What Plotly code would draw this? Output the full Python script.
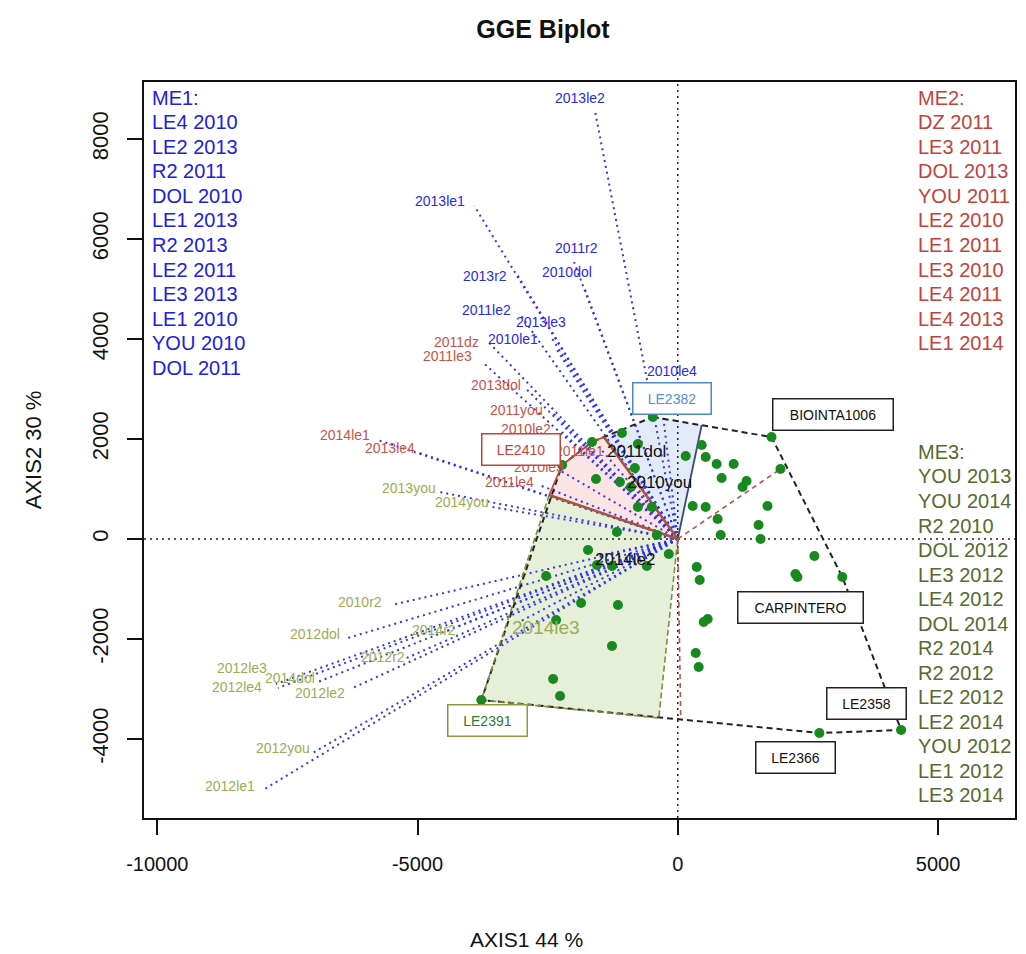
import plotly.graph_objects as go

# ---------------- genotype scores (AXIS1, AXIS2) ----------------
named_gen = ["LE2382", "BIOINTA1006", "CARPINTERO", "LE2358", "LE2366", "LE2391", "LE2410"]
named_x = [-479, 1801, 3161, 4291, 2720, -3774, -2222]
named_y = [2440, 2040, -760, -3820, -3880, -3220, 1480]

# unlabelled genotypes; the first one is a vertex of the polygon
other_x = [-1648, -1073, -766, -824, -1571, -1111, -900, -766, -498, -1169, -402, -172,
           -1724, -1552, -1264, -594, 460, 153, 536, 747, 1073, 843, 1322, 1245, 1973,
           287, 536, 1724, 766, 1552, 824, 1590, 2625, 364, 421, 2261, 2299, 498, 575,
           345, 402, -2529, -1858, -1149, -2337, -1264, -2395, -2261]
other_y = [1940, 2120, 1900, 1420, 1200, 1140, 1040, 640, 640, 140, 80, -300,
           -220, -520, -540, -540, 1880, 1660, 1640, 1500, 1500, 1220, 1160, 1040, 1400,
           660, 640, 660, 400, 280, 80, 0, -340, -560, -820, -700, -760, -1660, -1600,
           -2280, -2560, -740, -1280, -1320, -1620, -2140, -2800, -3140]

# ---------------- environment scores ----------------
env_names = ["2013le2", "2013le1", "2011r2", "2010dol", "2013r2", "2011le2", "2013le3",
             "2010le1", "2010le4", "2011dol", "2010you",
             "2011dz", "2011le3", "2013dol", "2011you", "2010le2", "2011le1", "2010le3",
             "2011le4", "2014le1", "2013le4",
             "2013you", "2014you", "2010r2", "2012dol", "2014r2", "2012r2", "2012le3",
             "2012le4", "2014dol", "2012le2", "2012you", "2012le1", "2014le2", "2014le3"]
env_x = [-1590, -3908, -1992, -1801, -3103, -3046, -2433, -2356, -364, -1226, -939,
         -3621, -3755, -2950, -2414, -2222, -1513, -2280, -2663, -5766, -5019,
         -4579, -3563, -5498, -6341, -4483, -5211, -7720, -7682, -6916, -6245, -7011,
         -7969, -1552, -3046]
env_y = [8560, 6660, 5540, 5040, 5320, 4520, 4040, 3840, 3180, 1820, 1220,
         3920, 3540, 3040, 2540, 2140, 1840, 1380, 1080, 1980, 1740,
         940, 640, -1320, -1980, -1860, -2380, -2900, -2980, -2860, -2980, -4280,
         -5020, -340, -1660]
env_group = ["ME1"] * 11 + ["ME2"] * 10 + ["ME3"] * 14

# ---------------- where the sector rays meet the polygon ----------------
ray_x = [460, -1418, -2471, -364, 1973, 57]
ray_y = [2280, 2040, 880, -3580, 1400, -3580]

# ---------------- mega-environment lists ----------------
me1_lines = ["ME1:", "LE4 2010", "LE2 2013", "R2 2011", "DOL 2010", "LE1 2013", "R2 2013",
             "LE2 2011", "LE3 2013", "LE1 2010", "YOU 2010", "DOL 2011"]
me2_lines = ["ME2:", "DZ 2011", "LE3 2011", "DOL 2013", "YOU 2011", "LE2 2010", "LE1 2011",
             "LE3 2010", "LE4 2011", "LE4 2013", "LE1 2014"]
me3_lines = ["ME3:", "YOU 2013", "YOU 2014", "R2 2010", "DOL 2012", "LE3 2012", "LE4 2012",
             "DOL 2014", "R2 2014", "R2 2012", "LE2 2012", "LE2 2014", "YOU 2012", "LE1 2012",
             "LE3 2014"]

# label placement around each vector tip (screen px, +x right, +y down)
label_dx = [-15, -34, 2, -17, -31, -33, -10, -42, 13, 23, 31,
            -33, -35, -28, -36, -36, -20, -20, -30, -33, -27,
            -30, -30, -32, -33, -10, -24, -34, -41, -28, -33, -30, -33, 29, 27]
label_dy = [-13, -5, -14, -15, 3, -3, -15, -8, -9, 3, 4,
            -1, -6, -2, -2, -3, 4, -3, -3, -5, -4,
            -4, -5, -3, -4, -2, -1, -16, -1, -4, 5, -5, -4, 3, 5]

FONT = "Liberation Sans, Arial, sans-serif"
group_color = {"ME1": "#2A2AE8", "ME2": "#C8524A", "ME3": "#98AE52"}
list_color = {"ME1": "#2020DD", "ME2": "#C0443C", "ME3": "#556B2F"}
special_labels = {"2011dol": ("#111111", 17), "2010you": ("#111111", 17),
                  "2014le2": ("#111111", 17), "2014le3": ("#98AE52", 19)}

pos = {n: (x, y) for n, x, y in zip(named_gen, named_x, named_y)}
g_vertex = (other_x[0], other_y[0])
R1, R2, R3, R4, R5, R6 = list(zip(ray_x, ray_y))
O = (0, 0)

fig = go.Figure()


def poly(points, fill, line_color, width, dash, closed=True):
    xs = [p[0] for p in points]
    ys = [p[1] for p in points]
    if closed:
        xs.append(points[0][0])
        ys.append(points[0][1])
    fig.add_trace(go.Scatter(
        x=xs, y=ys, mode="lines", fill="toself" if fill else None,
        fillcolor=fill, line=dict(color=line_color, width=width, dash=dash),
        hoverinfo="skip", showlegend=False))


# shaded sectors
poly([O, R3, pos["LE2391"], R4], "rgba(214,228,190,0.6)", "rgba(0,0,0,0)", 0, "solid")
poly([O, R3, pos["LE2410"], g_vertex, R2], "rgba(247,214,214,0.65)", "rgba(0,0,0,0)", 0, "solid")
poly([O, R2, pos["LE2382"], R1], "rgba(214,226,244,0.7)", "rgba(0,0,0,0)", 0, "solid")

# dotted reference axes through the origin
fig.add_trace(go.Scatter(x=[-10255, 6479], y=[0, 0], mode="lines",
                         line=dict(color="#222222", width=1.5, dash="2px,4px"),
                         hoverinfo="skip", showlegend=False))
fig.add_trace(go.Scatter(x=[0, 0], y=[-5580, 9140], mode="lines",
                         line=dict(color="#222222", width=1.5, dash="2px,4px"),
                         hoverinfo="skip", showlegend=False))

# environment vectors
vx, vy = [], []
for x, y in zip(env_x, env_y):
    vx += [0, x, None]
    vy += [0, y, None]
fig.add_trace(go.Scatter(x=vx, y=vy, mode="lines",
                         line=dict(color="#3434EC", width=2, dash="2px,4px"),
                         hoverinfo="skip", showlegend=False))

# polygon of the vertex genotypes
hull = [pos["LE2382"], pos["BIOINTA1006"], pos["CARPINTERO"], pos["LE2358"],
        pos["LE2366"], pos["LE2391"], pos["LE2410"], g_vertex]
poly(hull, None, "#222222", 2, "6px,4px")

# sector outlines
poly([R3, pos["LE2391"], R4, O], None, "#7E8E3A", 1.6, "6px,3px", closed=False)
poly([R3, pos["LE2410"], g_vertex, R2], None, "#C0443C", 1.8, "solid", closed=False)
poly([R3, O, R2], None, "#A5563E", 2.6, "solid", closed=False)
poly([O, R1], None, "#3A4A78", 1.8, "solid", closed=False)
poly([O, R5], None, "#C0504A", 1.6, "5px,4px", closed=False)
poly([O, R6], None, "#C0504A", 1.6, "5px,4px", closed=False)

# genotype points
fig.add_trace(go.Scatter(x=named_x + other_x, y=named_y + other_y, mode="markers",
                         marker=dict(color="#17891F", size=10),
                         hoverinfo="skip", showlegend=False))

ann = []
# environment labels
for n, x, y, g, dx, dy in zip(env_names, env_x, env_y, env_group, label_dx, label_dy):
    col, size = special_labels.get(n, (group_color[g], 14))
    ann.append(dict(x=x, y=y, xref="x", yref="y", text=n, showarrow=False,
                    xshift=dx, yshift=-dy, font=dict(family=FONT, size=size, color=col)))

# boxed genotype names
box_dx = [19, 61, -42, -35, -24, 6, -41]
box_dy = [-19, -23, 30, -27, 24, 20, -16]
box_w = [77, 119, 124, 78, 78, 78, 77]
box_border = ["#4F86C6", "#222222", "#222222", "#222222", "#222222", "#8C9A3C", "#C0443C"]
box_text = ["#5A8ED0", "#111111", "#111111", "#111111", "#111111", "#2E7D32", "#C0443C"]
for n, x, y, dx, dy, w, bc, tc in zip(named_gen, named_x, named_y, box_dx, box_dy,
                                      box_w, box_border, box_text):
    ann.append(dict(x=x, y=y, xref="x", yref="y", text=n, showarrow=False,
                    xshift=dx, yshift=-dy, width=w, height=30, borderpad=0,
                    bordercolor=bc, borderwidth=1.5, bgcolor="white",
                    font=dict(family=FONT, size=14, color=tc)))

# mega-environment lists (plot area: x 144..1017 px, y 82..818 px)
def px_to_paper(px, py):
    return (px - 144) / 873, (818 - py) / 736


for lines, key, left, top in [(me1_lines, "ME1", 150, 98), (me2_lines, "ME2", 918, 98),
                              (me3_lines, "ME3", 918, 452)]:
    for i, t in enumerate(lines):
        xp, yp = px_to_paper(left, top + 24.5 * i)
        ann.append(dict(x=xp, y=yp, xref="paper", yref="paper", text=t, showarrow=False,
                        xanchor="left", yanchor="middle",
                        font=dict(family=FONT, size=20, color=list_color[key])))

# axis titles
xp, yp = px_to_paper(527, 940)
ann.append(dict(x=xp, y=yp, xref="paper", yref="paper", text="AXIS1 44 %", showarrow=False,
                xanchor="center", yanchor="middle", font=dict(family=FONT, size=21, color="#111")))
xp, yp = px_to_paper(33, 450)
ann.append(dict(x=xp, y=yp, xref="paper", yref="paper", text="AXIS2 30 %", showarrow=False,
                textangle=-90, xanchor="center", yanchor="middle",
                font=dict(family=FONT, size=22, color="#111")))

fig.update_layout(
    width=1026, height=954,
    margin=dict(l=144, r=9, t=82, b=136),
    paper_bgcolor="white", plot_bgcolor="white",
    title=dict(text="<b>GGE Biplot</b>", x=543 / 1026, y=1 - 29 / 954,
               xanchor="center", yanchor="middle",
               font=dict(family=FONT, size=25, color="#111")),
    annotations=ann,
    xaxis=dict(range=[-10255, 6479], tickvals=[-10000, -5000, 0, 5000],
               ticktext=["-10000", "-5000", "0", "5000"],
               showgrid=False, zeroline=False, showline=True, mirror=True,
               linecolor="#111", linewidth=1.5, ticks="outside", ticklen=15,
               tickwidth=1.5, tickcolor="#111", ticklabelstandoff=12,
               tickfont=dict(family=FONT, size=20, color="#111")),
    yaxis=dict(range=[-5580, 9140], tickvals=[-4000, -2000, 0, 2000, 4000, 6000, 8000],
               ticktext=["-4000", "-2000", "0", "2000", "4000", "6000", "8000"],
               showgrid=False, zeroline=False, showline=True, mirror=True,
               linecolor="#111", linewidth=1.5, ticks="outside", ticklen=15,
               tickwidth=1.5, tickcolor="#111", tickangle=-90, ticklabelstandoff=10,
               tickfont=dict(family=FONT, size=22, color="#111")),
)

fig.write_html("out.html")
